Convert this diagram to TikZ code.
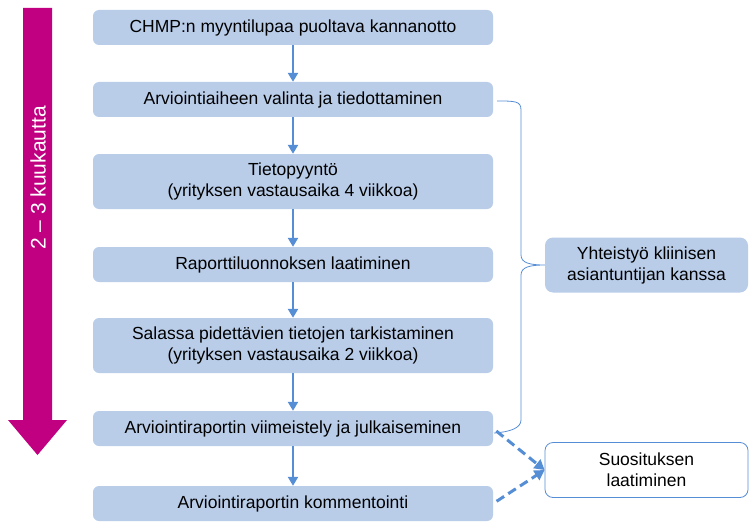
\documentclass[tikz,border=0pt]{standalone}
\usepackage{fontspec}
\setmainfont{Liberation Sans}
\usetikzlibrary{arrows.meta, positioning}

\definecolor{boxblue}{RGB}{185,205,233}
\definecolor{lineblue}{RGB}{85,142,213}
\definecolor{magentaarrow}{RGB}{192,0,128}

\tikzset{
  stepbox/.style={rectangle, rounded corners=6pt, fill=boxblue, minimum width=400pt, align=center, font=\fontsize{17.5}{21}\selectfont},
  sidebox/.style={rectangle, rounded corners=8pt, minimum width=203pt, minimum height=55pt, align=center, font=\fontsize{17.5}{21}\selectfont},
  flow/.style={-{Triangle[length=9pt,width=10pt]}, lineblue, line width=2.2pt},
  dashflow/.style={-{Triangle[length=10pt,width=11pt]}, lineblue, line width=3pt, dash pattern=on 9pt off 5pt}
}

\begin{document}
\begin{tikzpicture}[x=1pt, y=-1pt]
  \useasboundingbox (0,0) rectangle (754,532);

  % time arrow
  \fill[magentaarrow] (23,8) -- (52,8) -- (52,420) -- (67,420) -- (37.5,455) -- (8,420) -- (23,420) -- cycle;
  \node[rotate=90, text=white, font=\fontsize{21}{25}\selectfont] (time) at (38,178) {2 – 3 kuukautta};

  % steps
  \node[stepbox, minimum height=35pt] (s1) at (293,27.5)  {CHMP:n myyntilupaa puoltava kannanotto};
  \node[stepbox, minimum height=35pt] (s2) at (293,99.5)  {Arviointiaiheen valinta ja tiedottaminen};
  \node[stepbox, minimum height=55pt] (s3) at (293,181.5) {Tietopyyntö\\(yrityksen vastausaika 4 viikkoa)};
  \node[stepbox, minimum height=35pt] (s4) at (293,264.5) {Raporttiluonnoksen laatiminen};
  \node[stepbox, minimum height=55pt] (s5) at (293,345.5) {Salassa pidettävien tietojen tarkistaminen\\(yrityksen vastausaika 2 viikkoa)};
  \node[stepbox, minimum height=35pt] (s6) at (293,428.5) {Arviointiraportin viimeistely ja julkaiseminen};
  \node[stepbox, minimum height=35pt] (s7) at (293,503.5) {Arviointiraportin kommentointi};

  \foreach \a/\b in {s1/s2, s2/s3, s3/s4, s4/s5, s5/s6, s6/s7}
    \draw[flow] (\a) -- (\b);

  % side boxes
  \node[sidebox, fill=boxblue] (coop) at (646.5,265) {Yhteistyö kliinisen\\asiantuntijan kanssa};
  \node[sidebox, draw=lineblue, fill=white, line width=0.8pt] (rec) at (646.5,470) {Suosituksen\\laatiminen};

  % brace
  \coordinate (b2) at (497,101);
  \coordinate (b6) at (494,433);
  \draw[lineblue, line width=0.8pt]
    (b2) .. controls (515,101) and (521,101) .. (521,110) -- (521,255)
    .. controls (521,263) and (530,265) .. (coop.west)
    .. controls (530,265) and (521,267) .. (521,275) -- (521,420)
    .. controls (521,428) and (510,432) .. (b6);

  \draw[dashflow, shorten <=4pt] (s6.east) -- (rec.west);
  \draw[dashflow, shorten <=4pt] (s7.east) -- (rec.west);
\end{tikzpicture}
\end{document}
